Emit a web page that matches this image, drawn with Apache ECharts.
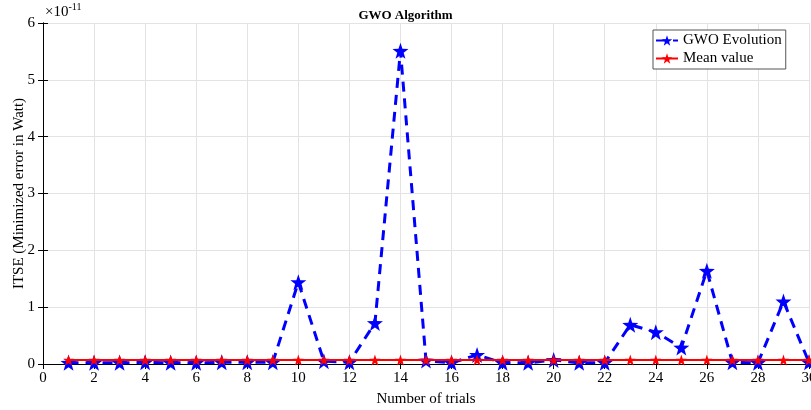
<!DOCTYPE html>
<html>
<head>
<meta charset="utf-8">
<script src="https://cdn.jsdelivr.net/npm/echarts@6/dist/echarts.min.js"></script>
<style>html,body{margin:0;padding:0;background:#fff}#c{width:811px;height:410px}</style>
</head>
<body>
<div id="c"></div>
<script>
var trials = [1,2,3,4,5,6,7,8,9,10,11,12,13,14,15,16,17,18,19,20,21,22,23,24,25,26,27,28,29,30];
// values in units of 1e-11
var gwoEvolution = [0.02,0.02,0.02,0.03,0.02,0.02,0.03,0.03,0.03,1.44,0.05,0.03,0.72,5.51,0.06,0.02,0.16,0.02,0.02,0.07,0.02,0.02,0.69,0.56,0.29,1.64,0.03,0.02,1.10,0.03];
var meanValue = [0.07,0.07,0.07,0.07,0.07,0.07,0.07,0.07,0.07,0.07,0.07,0.07,0.07,0.07,0.07,0.07,0.07,0.07,0.07,0.07,0.07,0.07,0.07,0.07,0.07,0.07,0.07,0.07,0.07,0.07];
var xTicks = {min:0, max:30, step:2};
var yTicks = {min:0, max:6, step:1};

var font = 'Liberation Serif';
var chart = echarts.init(document.getElementById('c'), null, {renderer:'canvas'});
function pairs(vals){ return trials.map(function(t,i){ return [t, vals[i]]; }); }
var axisLine = {show:true, lineStyle:{color:'#000', width:1}};
var tick = {show:true, inside:true, length:5, lineStyle:{color:'#000'}};
var star = 'path://M0,-10 L2.35,-3.24 L9.51,-3.09 L3.8,1.24 L5.88,8.09 L0,4 L-5.88,8.09 L-3.8,1.24 L-9.51,-3.09 L-2.35,-3.24 Z';
chart.setOption({
  animation:false,
  backgroundColor:'#fff',
  title:{text:'GWO Algorithm', left:'center', top:4, textStyle:{fontFamily:font, fontSize:13, fontWeight:'bold', color:'#000'}},
  grid:{left:43, right:2, top:23, bottom:46, outerBoundsMode:'none', containLabel:false},
  legend:{
    left:653, top:30, orient:'vertical', itemGap:3, itemWidth:22, itemHeight:13,
    backgroundColor:'#fff', borderColor:'#555', borderWidth:1, padding:[3,4,3,2],
    textStyle:{fontFamily:font, fontSize:15, color:'#000'},
    data:['GWO Evolution','Mean value']
  },
  xAxis:[{
    type:'value', min:xTicks.min, max:xTicks.max, interval:xTicks.step,
    name:'Number of trials', nameLocation:'middle', nameGap:28, nameMoveOverlap:false,
    nameTextStyle:{fontFamily:font, fontSize:15, color:'#000'},
    axisLine:axisLine, axisTick:tick,
    axisLabel:{fontFamily:font, fontSize:15, color:'#000', margin:7},
    splitLine:{show:true, lineStyle:{color:'#e3e3e3'}}
  },{
    type:'value', position:'top', min:xTicks.min, max:xTicks.max, interval:xTicks.step,
    axisLine:axisLine, axisTick:tick, axisLabel:{show:false}, splitLine:{show:false}
  }],
  yAxis:[{
    type:'value', min:yTicks.min, max:yTicks.max, interval:yTicks.step,
    name:'ITSE (Minimized error in Watt)', nameLocation:'middle', nameGap:16, nameRotate:90, nameMoveOverlap:false,
    nameTextStyle:{fontFamily:font, fontSize:15, color:'#000'},
    axisLine:axisLine, axisTick:tick,
    axisLabel:{fontFamily:font, fontSize:15, color:'#000', margin:8},
    splitLine:{show:true, lineStyle:{color:'#e3e3e3'}}
  },{
    type:'value', position:'right', min:yTicks.min, max:yTicks.max, interval:yTicks.step,
    axisLine:axisLine, axisTick:tick, axisLabel:{show:false}, splitLine:{show:false}
  }],
  graphic:[{
    type:'text', left:45, top:2,
    style:{text:'{a|×10}{b|-11}', rich:{
      a:{fontFamily:font, fontSize:15, fill:'#000', verticalAlign:'bottom'},
      b:{fontFamily:font, fontSize:10, fill:'#000', verticalAlign:'top', padding:[0,0,8,0]}
    }}
  }],
  series:[{
    name:'GWO Evolution', type:'line', data:pairs(gwoEvolution),
    symbol:star, symbolSize:16, z:2,
    lineStyle:{color:'#0000ff', width:3, type:[10,7]},
    itemStyle:{color:'#0000ff'}
  },{
    name:'Mean value', type:'line', data:pairs(meanValue),
    symbol:star, symbolSize:11, z:3,
    lineStyle:{color:'#ff0000', width:2},
    itemStyle:{color:'#ff0000'}
  }]
});
</script>
</body>
</html>
